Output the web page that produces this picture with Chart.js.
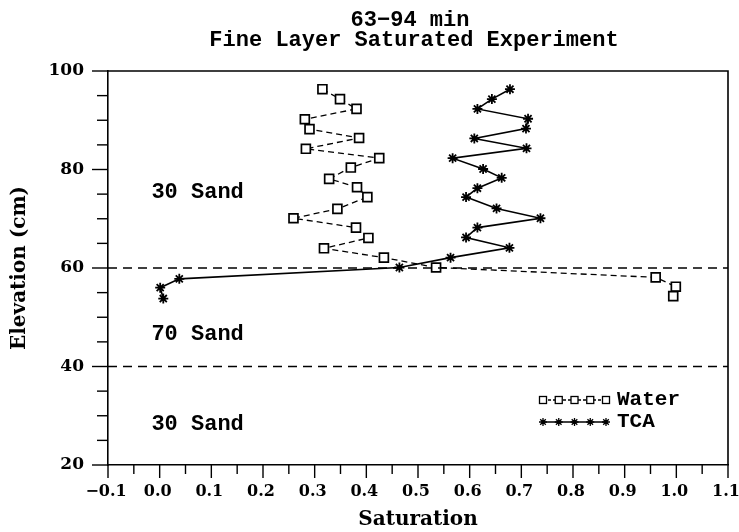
<!DOCTYPE html>
<html>
<head>
<meta charset="utf-8">
<script src="https://cdn.jsdelivr.net/npm/chart.js@4.4.0/dist/chart.umd.min.js"></script>
<style>
  html, body { margin: 0; padding: 0; background: #fff; }
  #wrap { width: 739px; height: 532px; }
</style>
</head>
<body>
<div id="wrap"><canvas id="grafico" width="739" height="532"></canvas></div>
<script>
// Saturation profiles
const waterElev = [96.3, 94.3, 92.3, 90.2, 88.2, 86.4, 84.2, 82.3, 80.4, 78.1, 76.4, 74.4, 72.0, 70.1, 68.2, 66.1, 64.0, 62.1, 60.1, 58.1, 56.2, 54.3];
const waterSat  = [0.315, 0.349, 0.381, 0.281, 0.290, 0.386, 0.283, 0.425, 0.370, 0.328, 0.382, 0.402, 0.344, 0.259, 0.380, 0.404, 0.318, 0.434, 0.535, 0.960, 0.999, 0.994];
const tcaElev   = [96.3, 94.3, 92.3, 90.3, 88.3, 86.3, 84.3, 82.3, 80.1, 78.3, 76.2, 74.4, 72.1, 70.1, 68.2, 66.2, 64.1, 62.1, 60.1, 57.8, 56.0, 53.8];
const tcaSat    = [0.678, 0.643, 0.615, 0.713, 0.709, 0.609, 0.710, 0.567, 0.626, 0.662, 0.615, 0.593, 0.652, 0.737, 0.615, 0.593, 0.677, 0.563, 0.464, 0.038, 0.001, 0.007];

// Layer boundaries and layer names
const boundaries = [60, 40];
const layerNames = ['30 Sand', '70 Sand', '30 Sand'];
const layerElev  = [75.4, 46.6, 28.3];

const titleLines = ['63\u221294 min', 'Fine Layer Saturated Experiment'];
const xMin = -0.1, xMax = 1.1, yMin = 20, yMax = 100;

const serif = '"DejaVu Serif", serif';
const mono = '"Liberation Mono", monospace';

const pts = (xs, ys) => xs.map((v, i) => ({ x: v, y: ys[i] }));

// box, minor ticks, layer labels, legend and title
const extras = {
    id: 'extras',
    afterDraw(chart) {
        const { ctx, chartArea: a, scales: { x, y } } = chart;
        ctx.save();
        ctx.strokeStyle = '#000';
        ctx.lineWidth = 1.6;
        ctx.beginPath();
        ctx.moveTo(a.left, a.top); ctx.lineTo(a.right, a.top); ctx.lineTo(a.right, a.bottom);
        ctx.stroke();

        ctx.lineWidth = 1.4;
        for (let i = 0; i <= 24; i++) {
            const px = x.getPixelForValue(xMin + i * 0.05);
            const len = i % 2 === 0 ? 13 : 9;
            ctx.beginPath(); ctx.moveTo(px, a.bottom); ctx.lineTo(px, a.bottom + len); ctx.stroke();
        }
        for (let v = yMin; v <= yMax; v += 5) {
            const py = y.getPixelForValue(v);
            const len = v % 20 === 0 ? 16 : 11;
            ctx.beginPath(); ctx.moveTo(a.left - len, py); ctx.lineTo(a.left, py); ctx.stroke();
        }

        ctx.fillStyle = '#000';
        ctx.font = 'bold 22px ' + mono;
        ctx.textBaseline = 'middle';
        ctx.textAlign = 'left';
        layerNames.forEach((t, i) => ctx.fillText(t, x.getPixelForValue(-0.016), y.getPixelForValue(layerElev[i])));

        // legend
        const lx0 = 543, lx1 = 606, step = (lx1 - lx0) / 4;
        const rowW = 400, rowT = 422;
        ctx.lineWidth = 1.3;
        ctx.setLineDash([3, 2]);
        ctx.beginPath(); ctx.moveTo(lx0, rowW); ctx.lineTo(lx1, rowW); ctx.stroke();
        ctx.setLineDash([]);
        for (let i = 0; i < 5; i++) {
            const cx = lx0 + i * step;
            ctx.fillStyle = '#fff';
            ctx.fillRect(cx - 3.5, rowW - 3.5, 7, 7);
            ctx.strokeRect(cx - 3.5, rowW - 3.5, 7, 7);
        }
        ctx.beginPath(); ctx.moveTo(lx0, rowT); ctx.lineTo(lx1, rowT); ctx.stroke();
        for (let i = 0; i < 5; i++) {
            const cx = lx0 + i * step, r = 4;
            ctx.beginPath();
            ctx.moveTo(cx - r, rowT); ctx.lineTo(cx + r, rowT);
            ctx.moveTo(cx, rowT - r); ctx.lineTo(cx, rowT + r);
            ctx.moveTo(cx - r * 0.7, rowT - r * 0.7); ctx.lineTo(cx + r * 0.7, rowT + r * 0.7);
            ctx.moveTo(cx - r * 0.7, rowT + r * 0.7); ctx.lineTo(cx + r * 0.7, rowT - r * 0.7);
            ctx.stroke();
        }
        ctx.fillStyle = '#000';
        ctx.font = 'bold 21px ' + mono;
        ctx.fillText('Water', 617, rowW);
        ctx.fillText('TCA', 617, rowT);

        // title
        ctx.textAlign = 'center';
        ctx.font = 'bold 22px ' + mono;
        ctx.fillText(titleLines[0], 410, 20);
        ctx.fillText(titleLines[1], 414, 40);
        ctx.restore();
    }
};

const ctx = document.getElementById('grafico').getContext('2d');
const chart = new Chart(ctx, {
    type: 'line',
    data: {
        datasets: [
            ...boundaries.map(b => ({
                label: 'b' + b,
                data: [{ x: xMin, y: b }, { x: xMax, y: b }],
                borderColor: '#000',
                borderWidth: 1.6,
                borderDash: [9, 6],
                pointRadius: 0
            })),
            {
                label: 'Water',
                data: pts(waterSat, waterElev),
                borderColor: '#000',
                borderWidth: 1.3,
                borderDash: [6, 4],
                pointStyle: 'rect',
                pointRadius: 6.3,
                pointBorderWidth: 1.7,
                pointBackgroundColor: '#fff',
                pointBorderColor: '#000'
            },
            {
                label: 'TCA',
                data: pts(tcaSat, tcaElev),
                borderColor: '#000',
                borderWidth: 1.6,
                pointStyle: 'star',
                pointRadius: 5,
                pointBorderWidth: 1.8,
                pointBorderColor: '#000'
            }
        ]
    },
    options: {
        responsive: false,
        animation: false,
        layout: { padding: { top: 71, right: 11, left: 6, bottom: 0 } },
        plugins: { legend: { display: false }, title: { display: false }, tooltip: { enabled: false } },
        scales: {
            x: {
                type: 'linear', min: xMin, max: xMax,
                afterFit: s => { s.height = 67; s.paddingLeft = 0; s.paddingRight = 0; },
                border: { display: true, color: '#000', width: 1.6 },
                grid: { drawOnChartArea: false, drawTicks: false },
                ticks: {
                    stepSize: 0.1, padding: 17, color: '#000', maxRotation: 0, autoSkip: false,
                    labelOffset: -2,
                    font: { family: serif, size: 16, weight: 'bold' },
                    callback: v => v.toFixed(1).replace('-', '\u2212')
                },
                title: { display: true, text: 'Saturation', color: '#000', font: { family: serif, size: 20, weight: 'bold' }, padding: { top: 0, bottom: 0 } }
            },
            y: {
                type: 'linear', min: yMin, max: yMax,
                afterFit: s => { s.width = 102; s.paddingTop = 0; s.paddingBottom = 0; },
                border: { display: true, color: '#000', width: 1.6 },
                grid: { drawOnChartArea: false, drawTicks: false },
                ticks: { stepSize: 20, padding: 24, color: '#000', font: { family: serif, size: 17, weight: 'bold' } },
                title: { display: true, text: 'Elevation (cm)', color: '#000', font: { family: serif, size: 20, weight: 'bold' }, padding: { top: 2, bottom: 0 } }
            }
        }
    },
    plugins: [extras]
});
</script>
</body>
</html>
